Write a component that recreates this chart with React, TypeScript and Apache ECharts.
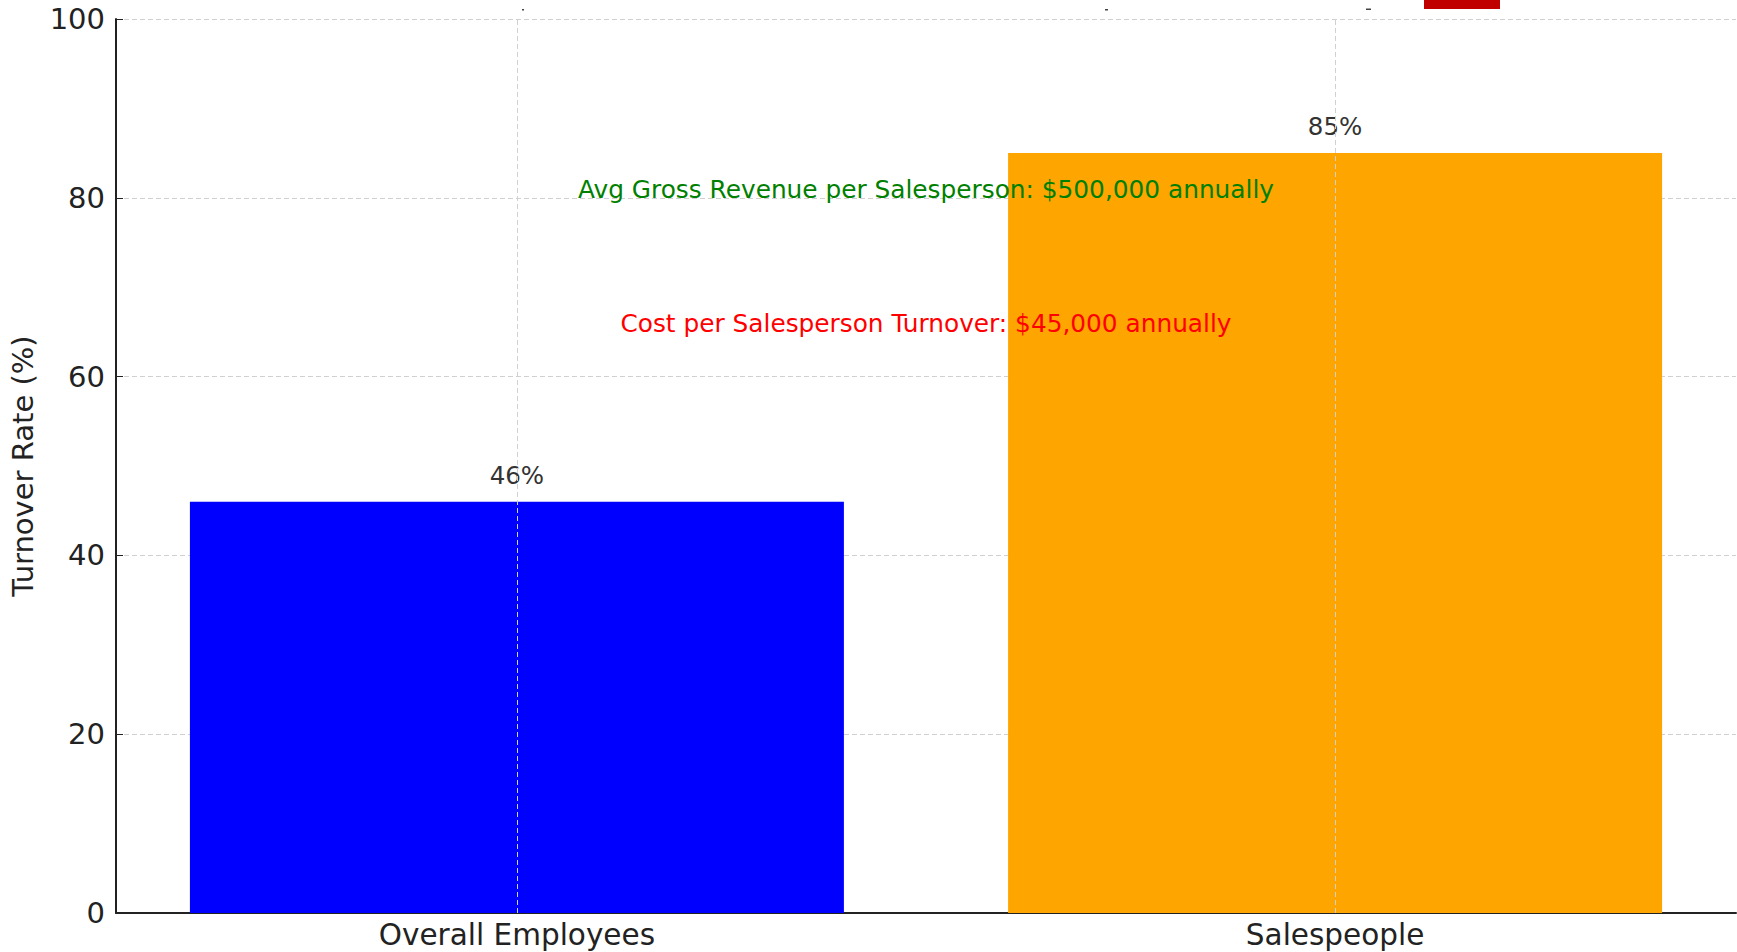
import React, { useEffect, useRef } from "react";
import * as echarts from "echarts";

const categories = ["Overall Employees", "Salespeople"];
const turnoverRates = [46, 85];
const barColors = ["#0000ff", "#ffa500"];
const yAxisRange = { min: 0, max: 100, interval: 20 };
const xPadding = 0.49; // matplotlib-style auto margins around bar positions
const annotationTexts = [
  "Avg Gross Revenue per Salesperson: $500,000 annually",
  "Cost per Salesperson Turnover: $45,000 annually",
];
const annotationYValues = [80, 65];
const annotationColors = ["#008000", "#ff0000"];

const FONT = "DejaVu Sans";

export default function App() {
  const ref = useRef<HTMLDivElement>(null);

  useEffect(() => {
    document.body.style.margin = "0";
    if (!ref.current) return;
    const chart = echarts.init(ref.current, null, { renderer: "svg" });
    const gridColor = "#d0d0d0";
    const positions = categories.map((_, i) => i);
    chart.setOption({
      animation: false,
      backgroundColor: "#ffffff",
      textStyle: { fontFamily: FONT },
      grid: { left: 116, right: 1, top: 19, bottom: 39, containLabel: false },
      xAxis: {
        type: "value",
        min: -xPadding,
        max: categories.length - 1 + xPadding,
        axisLine: { show: true, onZero: false, lineStyle: { color: "#222222", width: 2 } },
        axisTick: { show: true, inside: true, length: 7, customValues: positions, lineStyle: { color: "#222222", width: 1 } },
        axisLabel: {
          color: "#222222",
          fontSize: 29.5,
          fontFamily: FONT,
          margin: 7,
          customValues: positions,
          formatter: (v: number) => categories[Math.round(v)] ?? "",
        },
        splitLine: { show: false },
      },
      yAxis: {
        type: "value",
        min: yAxisRange.min,
        max: yAxisRange.max,
        interval: yAxisRange.interval,
        name: "Turnover Rate (%)",
        nameLocation: "middle",
        nameGap: 79,
        nameTextStyle: { color: "#222222", fontSize: 29, fontFamily: FONT },
        axisLine: { show: true, onZero: false, lineStyle: { color: "#222222", width: 2 } },
        axisTick: { show: true, inside: true, length: 7, lineStyle: { color: "#222222", width: 1 } },
        axisLabel: { color: "#222222", fontSize: 29, fontFamily: FONT, margin: 11 },
        splitLine: { show: true, lineStyle: { color: gridColor, type: [5, 3], width: 1 } },
      },
      series: [
        {
          type: "bar",
          data: turnoverRates.map((v, i) => ({ value: [positions[i], v], itemStyle: { color: barColors[i] } })),
          barWidth: 654,
          label: {
            show: true,
            position: "top",
            distance: 14,
            formatter: (p: any) => `${p.value[1]}%`,
            color: "#333333",
            fontSize: 24.5,
            fontFamily: FONT,
          },
          markLine: {
            silent: true,
            symbol: ["none", "none"],
            label: { show: false },
            lineStyle: { color: gridColor, type: [5, 3], width: 1 },
            data: positions.map((p) => ({ xAxis: p })),
          },
          z: 2,
        },
      ],
    });

    const x0 = chart.convertToPixel({ xAxisIndex: 0 }, positions[0]) as number;
    const x1 = chart.convertToPixel({ xAxisIndex: 0 }, positions[1]) as number;
    const midX = (x0 + x1) / 2;
    const texts = annotationTexts.map((t, i) => {
      const y = chart.convertToPixel({ yAxisIndex: 0 }, annotationYValues[i]) as number;
      return {
        type: "text",
        z: 10,
        style: {
          text: t,
          x: midX,
          y: y - 8.5,
          textAlign: "center",
          textVerticalAlign: "middle",
          fill: annotationColors[i],
          font: `24.8px "${FONT}"`,
        },
      };
    });
    chart.setOption({
      graphic: [
        ...texts,
        { type: "rect", shape: { x: 1424, y: 0, width: 76, height: 9 }, style: { fill: "#c00000" } },
        { type: "rect", shape: { x: 522, y: 9, width: 2, height: 1.5 }, style: { fill: "#444444" } },
        { type: "rect", shape: { x: 1105, y: 9, width: 3, height: 1.5 }, style: { fill: "#444444" } },
        { type: "rect", shape: { x: 1366, y: 8.5, width: 5, height: 1.5 }, style: { fill: "#444444" } },
      ],
    });

    return () => chart.dispose();
  }, []);

  return <div ref={ref} style={{ position: "fixed", left: 0, top: 0, width: 1737, height: 952 }} />;
}
